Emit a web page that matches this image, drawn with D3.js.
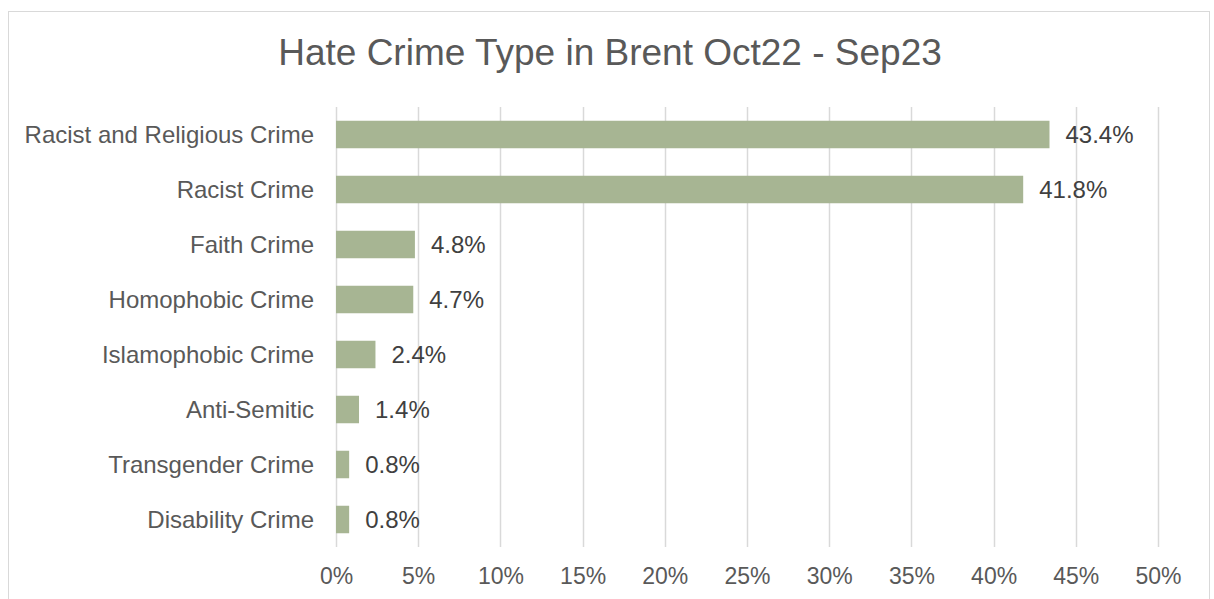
<!DOCTYPE html>
<html>
<head>
<meta charset="utf-8">
<script src="https://cdn.jsdelivr.net/npm/d3@7/dist/d3.min.js"></script>
<style>
  html, body { margin: 0; padding: 0; background: #ffffff; }
  svg { display: block; font-family: "Liberation Sans", Arial, sans-serif; }
</style>
</head>
<body>
<svg id="chart" width="1214" height="599"></svg>
<script>
// Hate crime types recorded in Brent, Oct 2022 - Sep 2023 (share of total, %)
const categories = [
  "Racist and Religious Crime",
  "Racist Crime",
  "Faith Crime",
  "Homophobic Crime",
  "Islamophobic Crime",
  "Anti-Semitic",
  "Transgender Crime",
  "Disability Crime"
];
const shares = [43.4, 41.8, 4.8, 4.7, 2.4, 1.4, 0.8, 0.8];
const tickValues = [0, 5, 10, 15, 20, 25, 30, 35, 40, 45, 50];
const titleText = "Hate Crime Type in Brent Oct22 - Sep23";

const svg = d3.select("#chart");
const plot = { left: 336, right: 1158, top: 107, bottom: 547 };
const font = "Liberation Sans, Arial, sans-serif";

// Outer chart frame
svg.append("rect")
  .attr("x", 8.5).attr("y", 11.5)
  .attr("width", 1201).attr("height", 600)
  .attr("fill", "#ffffff")
  .attr("stroke", "#d9d9d9").attr("stroke-width", 1);

const x = d3.scaleLinear().domain([0, 50]).range([plot.left, plot.right]);
const y = d3.scaleBand().domain(categories).range([plot.top, plot.bottom]).paddingInner(0.5).paddingOuter(0.25);

// Title
svg.append("text")
  .attr("x", 610).attr("y", 65)
  .attr("text-anchor", "middle")
  .attr("font-size", 37)
  .attr("fill", "#595959")
  .text(titleText);

// Vertical gridlines
svg.append("g")
  .selectAll("line")
  .data(tickValues)
  .join("line")
  .attr("x1", d => Math.round(x(d)) + 0.5).attr("x2", d => Math.round(x(d)) + 0.5)
  .attr("y1", plot.top).attr("y2", plot.bottom)
  .attr("stroke", "#d9d9d9").attr("stroke-width", 1.5);

// X axis tick labels
const xAxis = d3.axisBottom(x).tickValues(tickValues).tickSize(0).tickPadding(0).tickFormat(d => d + "%");
const gx = svg.append("g").attr("transform", `translate(0, ${plot.bottom})`).call(xAxis);
gx.select(".domain").remove();
gx.selectAll("text")
  .attr("y", 37).attr("dy", null)
  .attr("font-size", 23)
  .attr("font-family", font)
  .attr("fill", "#595959");

// Category labels
const yAxis = d3.axisLeft(y).tickSize(0).tickPadding(22);
const gy = svg.append("g").attr("transform", `translate(${plot.left}, 0)`).call(yAxis);
gy.select(".domain").remove();
gy.selectAll("text")
  .attr("dy", "0.35em")
  .attr("font-size", 24)
  .attr("font-family", font)
  .attr("fill", "#595959");

// Bars
svg.append("g")
  .selectAll("rect")
  .data(categories)
  .join("rect")
  .attr("x", x(0))
  .attr("y", d => y(d))
  .attr("width", (d, i) => x(shares[i]) - x(0))
  .attr("height", y.bandwidth())
  .attr("fill", "#a7b593");

// Value labels
svg.append("g")
  .selectAll("text")
  .data(categories)
  .join("text")
  .attr("x", (d, i) => x(shares[i]) + 16)
  .attr("y", d => y(d) + y.bandwidth() / 2)
  .attr("dy", "0.37em")
  .attr("font-size", 24)
  .attr("font-family", font)
  .attr("fill", "#404040")
  .text((d, i) => shares[i].toFixed(1) + "%");
</script>
</body>
</html>
